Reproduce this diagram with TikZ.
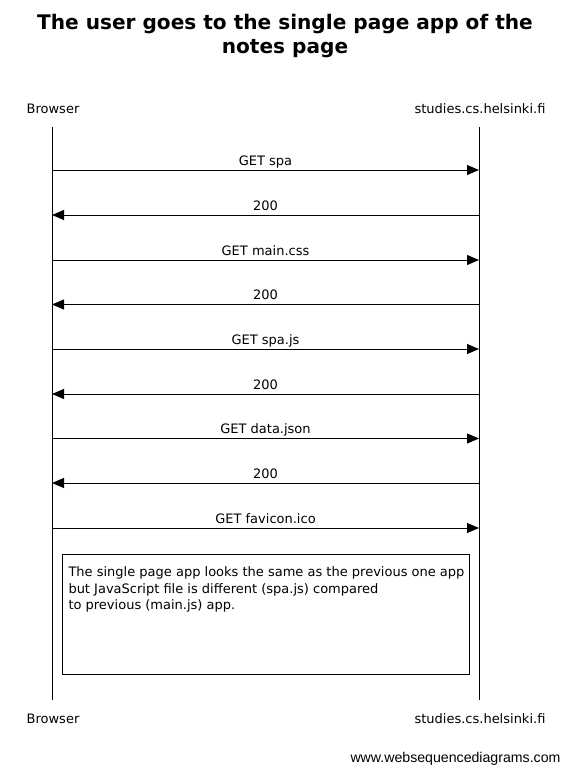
\documentclass[tikz,border=0pt]{standalone}
\usepackage{fontspec}
\setmainfont{DejaVu Sans}
\newfontfamily\footfont{Liberation Sans}
\usetikzlibrary{arrows.meta}

\begin{document}
\begin{tikzpicture}[x=1pt, y=-1pt,
    line width=1pt,
    actor/.style={anchor=base, inner sep=0pt, font=\fontsize{13}{16}\selectfont},
    lifeline/.style={draw, line width=1pt},
    msg/.style={draw, -{Triangle[length=12pt, width=10pt]}},
    msglabel/.style={pos=0.5, anchor=base, yshift=5pt, inner sep=0pt,
                     font=\fontsize{13}{16}\selectfont},
    notebox/.style={draw, line width=1pt}]

\useasboundingbox[fill=white] (0,0) rectangle (570,771);

% title
\node[anchor=base, inner sep=0pt, font=\bfseries\fontsize{20.1}{25}\selectfont] (title1) at (285,29) {The user goes to the single page app of the};
\node[anchor=base, inner sep=0pt, font=\bfseries\fontsize{20.1}{25}\selectfont] (title2) at (285,53.5) {notes page};

% participants
\node[actor] (browserTop) at (53,113) {Browser};
\node[actor] (serverTop) at (480,113) {studies.cs.helsinki.fi};
\node[actor] (browserBot) at (53,723) {Browser};
\node[actor] (serverBot) at (480,723) {studies.cs.helsinki.fi};

% lifelines
\coordinate (browserStart) at (52,127);
\coordinate (browserEnd) at (52,700);
\coordinate (serverStart) at (479,127);
\coordinate (serverEnd) at (479,700);
\draw[lifeline] (browserStart) -- (browserEnd);
\draw[lifeline] (serverStart) -- (serverEnd);

% messages
\coordinate (b1) at (52,170);   \coordinate (s1) at (479,170);
\coordinate (b2) at (52,215);   \coordinate (s2) at (479,215);
\coordinate (b3) at (52,260);   \coordinate (s3) at (479,260);
\coordinate (b4) at (52,304.5); \coordinate (s4) at (479,304.5);
\coordinate (b5) at (52,349);   \coordinate (s5) at (479,349);
\coordinate (b6) at (52,394);   \coordinate (s6) at (479,394);
\coordinate (b7) at (52,438.5); \coordinate (s7) at (479,438.5);
\coordinate (b8) at (52,483);   \coordinate (s8) at (479,483);
\coordinate (b9) at (52,528);   \coordinate (s9) at (479,528);

\draw[msg] (b1) -- (s1) node[msglabel] {GET spa};
\draw[msg] (s2) -- (b2) node[msglabel] {200};
\draw[msg] (b3) -- (s3) node[msglabel] {GET main.css};
\draw[msg] (s4) -- (b4) node[msglabel] {200};
\draw[msg] (b5) -- (s5) node[msglabel] {GET spa.js};
\draw[msg] (s6) -- (b6) node[msglabel] {200};
\draw[msg] (b7) -- (s7) node[msglabel] {GET data.json};
\draw[msg] (s8) -- (b8) node[msglabel] {200};
\draw[msg] (b9) -- (s9) node[msglabel] {GET favicon.ico};

% note
\coordinate (noteNW) at (62.5,554.5);
\coordinate (noteSE) at (469.5,674);
\draw[notebox] (noteNW) rectangle (noteSE);
\node[anchor=base west, inner sep=0pt, align=left,
      font=\fontsize{13}{16.5}\selectfont] (noteText) at (68,609.5)
  {The single page app looks the same as the previous one app\\
   but JavaScript file is different (spa.js) compared\\
   to previous (main.js) app.};

% footer
\node[anchor=base east, inner sep=0pt, font=\footfont\fontsize{14.15}{16}\selectfont] (footer) at (561,762) {www.websequencediagrams.com};

\end{tikzpicture}
\end{document}
